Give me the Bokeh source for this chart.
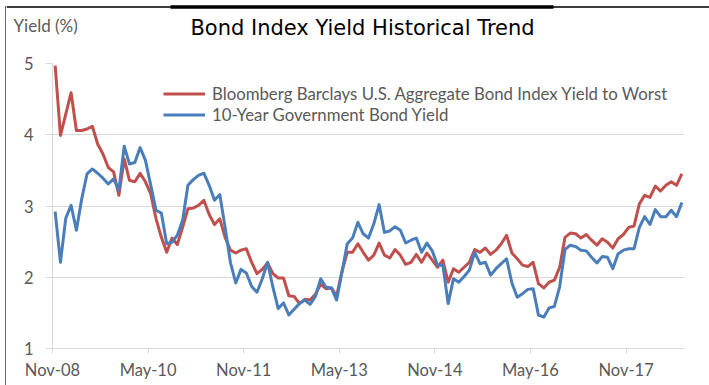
from bokeh.plotting import figure
from bokeh.layouts import row, column
from bokeh.models import FixedTicker, Legend, LegendItem, ColumnDataSource, Range1d
from bokeh.core.properties import value
from bokeh.embed import file_html
from bokeh.resources import INLINE

# ---- data (monthly, Nov-08 .. Sep-18) ----
agg_yield = [4.97, 3.99, 4.29, 4.59, 4.06, 4.06, 4.08, 4.12, 3.87, 3.73,
             3.54, 3.48, 3.15, 3.66, 3.36, 3.34, 3.46, 3.34, 3.17, 2.82,
             2.56, 2.35, 2.55, 2.46, 2.70, 2.96, 2.97, 3.01, 3.08, 2.88,
             2.74, 2.82, 2.56, 2.38, 2.34, 2.38, 2.40, 2.21, 2.05, 2.11,
             2.20, 2.05, 1.99, 1.99, 1.74, 1.73, 1.63, 1.69, 1.68, 1.76,
             1.90, 1.84, 1.85, 1.74, 2.08, 2.35, 2.35, 2.47, 2.35, 2.24,
             2.31, 2.48, 2.31, 2.27, 2.39, 2.31, 2.18, 2.21, 2.32, 2.21,
             2.34, 2.24, 2.14, 2.24, 1.93, 2.12, 2.07, 2.14, 2.21, 2.39,
             2.35, 2.41, 2.32, 2.38, 2.47, 2.59, 2.34, 2.26, 2.17, 2.15,
             2.21, 1.91, 1.85, 1.93, 1.96, 2.14, 2.56, 2.62, 2.61, 2.55,
             2.60, 2.52, 2.45, 2.54, 2.49, 2.41, 2.54, 2.60, 2.70, 2.72,
             3.03, 3.15, 3.12, 3.28, 3.21, 3.29, 3.34, 3.29, 3.45]

gov10_yield = [2.92, 2.21, 2.83, 3.01, 2.66, 3.10, 3.45, 3.52, 3.46, 3.39,
               3.31, 3.38, 3.22, 3.84, 3.59, 3.61, 3.82, 3.64, 3.29, 2.94,
               2.90, 2.47, 2.49, 2.59, 2.80, 3.29, 3.37, 3.43, 3.46, 3.29,
               3.08, 3.16, 2.70, 2.21, 1.92, 2.11, 2.06, 1.87, 1.79, 1.98,
               2.21, 1.86, 1.56, 1.64, 1.47, 1.55, 1.63, 1.68, 1.62, 1.73,
               1.98, 1.86, 1.85, 1.68, 2.07, 2.47, 2.55, 2.77, 2.61, 2.55,
               2.75, 3.02, 2.63, 2.65, 2.71, 2.66, 2.48, 2.52, 2.55, 2.35,
               2.48, 2.37, 2.17, 2.17, 1.63, 1.98, 1.93, 2.01, 2.10, 2.35,
               2.19, 2.21, 2.03, 2.12, 2.19, 2.26, 1.92, 1.72, 1.77, 1.83,
               1.84, 1.47, 1.44, 1.57, 1.59, 1.87, 2.39, 2.45, 2.43, 2.38,
               2.37, 2.28, 2.20, 2.29, 2.28, 2.12, 2.33, 2.38, 2.40, 2.40,
               2.70, 2.85, 2.74, 2.95, 2.85, 2.85, 2.94, 2.85, 3.05]

tick_labels = ["Nov-08", "May-10", "Nov-11", "May-13", "Nov-14", "May-16", "Nov-17"]
y_ticks = [1, 2, 3, 4, 5]
series_names = ["Bloomberg Barclays U.S. Aggregate Bond Index Yield to Worst",
                "10-Year Government Bond Yield"]
title_text = "Bond Index Yield Historical Trend"
y_title = "Yield (%)"

n = len(agg_yield)
xs = [i + 0.5 for i in range(n)]
tick_pos = [18 * k for k in range(len(tick_labels))]

RED = "#C0504D"
BLUE = "#4A7EBB"
GRID = "#D9D9D9"
TXT = "#595959"
FRAME = "#3C3C3C"
FONT = "Lato"


def bare(width, height, xr, yr):
    f = figure(width=width, height=height, output_backend="svg", toolbar_location=None,
               x_range=xr, y_range=yr, x_axis_type=None, y_axis_type=None,
               min_border=0)
    f.outline_line_color = None
    f.border_fill_color = "white"
    f.background_fill_color = "white"
    f.frame_align = False
    return f


# ---- left strip: outer frame edge ----
strip = bare(6, 385, Range1d(0, 6), Range1d(385, 0))
strip.segment(x0=[5.5], y0=[6], x1=[5.5], y1=[385], line_color=FRAME, line_width=1.5)
strip.segment(x0=[5], y0=[6.5], x1=[6], y1=[6.5], line_color=FRAME, line_width=2)

# ---- header: frame top, title, y title ----
head = bare(703, 55, Range1d(6, 709), Range1d(55, 0))
head.segment(x0=[6], y0=[6.5], x1=[709], y1=[6.5], line_color=FRAME, line_width=2)
head.segment(x0=[170], y0=[6.5], x1=[553], y1=[6.5], line_color="black", line_width=3.5)
head.text(x=[362], y=[27], text=[title_text], text_align="center", text_baseline="middle",
          text_color="black", text_font=value("DejaVu Sans"), text_font_size=value("21px"))
head.text(x=[13], y=[25], text=[y_title], text_align="left", text_baseline="middle",
          text_color=TXT, text_font=value(FONT), text_font_size=value("17px"))

# ---- main chart ----
p = figure(width=703, height=330, output_backend="svg", toolbar_location=None,
           x_range=Range1d(0, n), y_range=Range1d(1, 5),
           min_border_left=46, min_border_right=25, min_border_top=8,
           min_border_bottom=37)
p.outline_line_color = None
p.background_fill_color = "white"
p.border_fill_color = "white"
p.frame_align = False

src = ColumnDataSource(dict(x=xs, agg=agg_yield, gov=gov10_yield))
r_red = p.line("x", "agg", source=src, line_color=RED, line_width=3, line_join="round")
r_blue = p.line("x", "gov", source=src, line_color=BLUE, line_width=3, line_join="round")

p.xgrid.visible = False
p.ygrid.ticker = FixedTicker(ticks=y_ticks)
p.ygrid.grid_line_color = GRID
p.ygrid.grid_line_width = 1

p.yaxis.ticker = FixedTicker(ticks=y_ticks)
p.yaxis.axis_line_color = GRID
p.yaxis.major_tick_line_color = GRID
p.yaxis.major_tick_out = 7
p.yaxis.major_tick_in = 0
p.yaxis.minor_tick_line_color = None
p.yaxis.major_label_text_color = TXT
p.yaxis.major_label_text_font = FONT
p.yaxis.major_label_text_font_size = "16.5px"
p.yaxis.major_label_standoff = 12

p.xaxis.ticker = FixedTicker(ticks=tick_pos)
p.xaxis.major_label_overrides = {t: l for t, l in zip(tick_pos, tick_labels)}
p.xaxis.axis_line_color = GRID
p.xaxis.major_tick_line_color = GRID
p.xaxis.major_tick_out = 5
p.xaxis.major_tick_in = 0
p.xaxis.minor_tick_line_color = None
p.xaxis.major_label_text_color = TXT
p.xaxis.major_label_text_font = FONT
p.xaxis.major_label_text_font_size = "16.5px"
p.xaxis.major_label_standoff = 6

legend = Legend(items=[LegendItem(label=series_names[0], renderers=[r_red]),
                       LegendItem(label=series_names[1], renderers=[r_blue])],
                location=(111, 223), orientation="vertical",
                label_text_font=FONT, label_text_font_size="16.8px",
                label_text_color=TXT, glyph_width=42, glyph_height=21,
                label_height=21, label_standoff=7, spacing=0, padding=0,
                margin=0, border_line_color=None, background_fill_alpha=0)
p.add_layout(legend)

layout = row(strip, column(head, p, spacing=0), spacing=0)

open("out.html", "w").write(file_html(layout, INLINE))
